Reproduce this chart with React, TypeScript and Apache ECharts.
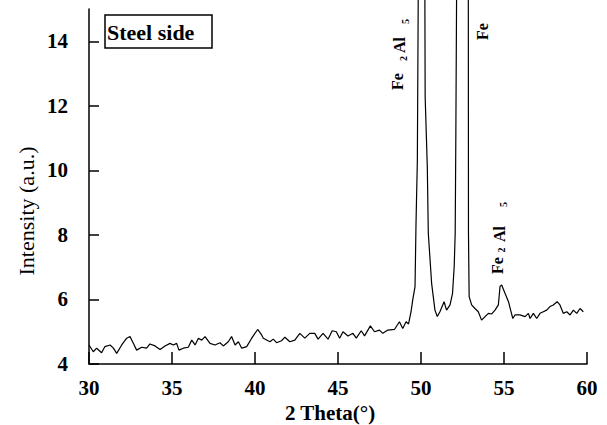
import React, { useEffect, useRef } from "react";
import * as echarts from "echarts";

const twoTheta = [
  30.0, 30.26, 30.46, 30.76, 30.96, 31.27, 31.47, 31.67, 31.97, 32.27, 32.47, 32.67, 32.87, 33.17, 33.47,
  33.67, 33.98, 34.28, 34.58, 34.88, 35.08, 35.28, 35.42, 35.68, 35.98, 36.19, 36.39, 36.59, 36.79, 36.99,
  37.29, 37.59, 37.89, 38.09, 38.39, 38.59, 38.8, 39.0, 39.2, 39.5, 39.8, 40.16, 40.4, 40.5, 40.9,
  41.1, 41.3, 41.6, 41.8, 42.1, 42.4, 42.7, 43.0, 43.3, 43.6, 43.8, 44.1, 44.4, 44.65, 44.9,
  45.1, 45.3, 45.6, 45.9, 46.1, 46.4, 46.6, 46.95, 47.2, 47.5, 47.7, 48.0, 48.4, 48.7, 48.9,
  49.1, 49.25, 49.4, 49.5, 49.64, 49.7, 49.78, 49.84, 50.04, 50.23, 50.25, 50.38, 50.44, 50.64, 50.84,
  50.98, 51.14, 51.39, 51.54, 51.75, 51.9, 52.0, 52.06, 52.1, 52.15, 52.5, 52.85, 52.86, 52.9, 53.05,
  53.25, 53.45, 53.65, 53.86, 54.06, 54.26, 54.46, 54.66, 54.76, 54.86, 55.06, 55.27, 55.4, 55.53, 55.66,
  55.96, 56.27, 56.47, 56.57, 56.77, 56.97, 57.17, 57.37, 57.57, 57.77, 57.97, 58.2, 58.37, 58.57, 58.78,
  58.98, 59.18, 59.38, 59.58, 59.78,
];

const intensity = [
  4.59, 4.38, 4.49, 4.35, 4.54, 4.59, 4.49, 4.33, 4.59, 4.8, 4.85, 4.64, 4.43, 4.52, 4.49,
  4.62, 4.56, 4.45, 4.56, 4.64, 4.59, 4.64, 4.43, 4.49, 4.52, 4.74, 4.59, 4.8, 4.74, 4.85,
  4.64, 4.59, 4.66, 4.56, 4.69, 4.85, 4.59, 4.69, 4.49, 4.54, 4.8, 5.07, 4.9, 4.8, 4.69,
  4.77, 4.66, 4.72, 4.83, 4.69, 4.74, 4.95, 4.8, 4.95, 4.95, 4.77, 4.95, 4.77, 5.03, 5.0,
  4.8, 5.0, 4.87, 4.95, 4.8, 5.03, 4.87, 5.18, 5.0, 5.05, 4.95, 5.05, 5.07, 5.31, 5.1,
  5.31, 5.24, 5.62, 5.98, 6.4, 8.37, 10.3, 16, 30, 16, 12.29, 10.1, 8.05, 6.5, 5.67,
  5.47, 5.62, 5.93, 5.67, 5.83, 6.19, 7.02, 8.05, 11.15, 16, 30, 16, 8.05, 6.09, 5.83,
  5.72, 5.62, 5.36, 5.47, 5.57, 5.55, 5.67, 5.83, 6.4, 6.45, 6.19, 5.93, 5.67, 5.41, 5.52,
  5.52, 5.47, 5.57, 5.41, 5.57, 5.41, 5.57, 5.62, 5.67, 5.78, 5.83, 5.93, 5.83, 5.57, 5.62,
  5.52, 5.67, 5.57, 5.72, 5.62,
];

const xTicks = [30, 35, 40, 45, 50, 55, 60];
const yTicks = [4, 6, 8, 10, 12, 14];

const xTitle = "2 Theta(°)";
const yTitle = "Intensity (a.u.)";
const boxLabel = "Steel side";

const FONT = "'Liberation Serif', 'Times New Roman', serif";

function vText(text: string, x: number, y: number, size: number, weight: string = "bold") {
  return {
    type: "text",
    x,
    y,
    rotation: Math.PI / 2,
    silent: true,
    style: {
      text,
      fontSize: size,
      fontWeight: weight,
      fontFamily: FONT,
      fill: "#000",
      textAlign: "center",
      textVerticalAlign: "middle",
      align: "center",
      verticalAlign: "middle",
    },
  };
}

export default function App() {
  const ref = useRef<HTMLDivElement>(null);

  useEffect(() => {
    if (!ref.current) return;
    const chart = echarts.init(ref.current, null, { renderer: "svg" });
    const data = twoTheta.map((t, i) => [t, intensity[i]]);
    chart.setOption({
      animation: false,
      backgroundColor: "#fff",
      grid: { left: 89, right: 20, top: 9, bottom: 61 },
      xAxis: {
        type: "value",
        min: 30,
        max: 60,
        interval: 5,
        axisLine: { show: true, lineStyle: { color: "#000", width: 1.5 } },
        axisTick: { show: true, inside: true, length: 12, lineStyle: { color: "#000", width: 1.5 }, customValues: xTicks },
        axisLabel: {
          color: "#000",
          fontSize: 21,
          fontWeight: "bold",
          fontFamily: FONT,
          margin: 13,
          customValues: xTicks,
        },
        splitLine: { show: false },
      },
      yAxis: {
        type: "value",
        min: 4,
        max: 15,
        interval: 2,
        axisLine: { show: true, lineStyle: { color: "#000", width: 1.5 } },
        axisTick: { show: true, inside: true, length: 10, lineStyle: { color: "#000", width: 1.5 }, customValues: yTicks },
        axisLabel: {
          color: "#000",
          fontSize: 21,
          fontWeight: "bold",
          fontFamily: FONT,
          margin: 21,
          customValues: yTicks,
        },
        splitLine: { show: false },
      },
      series: [
        {
          type: "line",
          data,
          showSymbol: false,
          clip: false,
          lineStyle: { color: "#000", width: 1.2 },
        },
      ],
      graphic: [
        {
          type: "rect",
          shape: { x: 105, y: 15, width: 107, height: 33 },
          style: { fill: "#fff", stroke: "#000", lineWidth: 1.5 },
          silent: true,
        },
        {
          type: "text",
          x: 107,
          y: 32,
          silent: true,
          style: {
            text: boxLabel,
            fontSize: 22,
            fontWeight: "bold",
            fontFamily: FONT,
            fill: "#000",
            textAlign: "left",
            textVerticalAlign: "middle",
            align: "left",
            verticalAlign: "middle",
          },
        },
        {
          type: "text",
          x: 330,
          y: 413,
          silent: true,
          style: {
            text: xTitle,
            fontSize: 21,
            fontWeight: "bold",
            fontFamily: FONT,
            fill: "#000",
            textAlign: "center",
            textVerticalAlign: "middle",
            align: "center",
            verticalAlign: "middle",
          },
        },
        vText(yTitle, 26, 211, 22, "normal"),
        // Fe2Al5 label at ~50°
        vText("Fe", 397.5, 81.5, 16),
        vText("2", 403.5, 58.5, 10),
        vText("Al", 399, 45, 16),
        vText("5", 405, 21.5, 10),
        // Fe label at ~52.5°
        vText("Fe", 482.5, 31.5, 16),
        // Fe2Al5 label at ~55°
        vText("Fe", 497, 265.5, 16),
        vText("2", 501.5, 250, 10),
        vText("Al", 499, 234, 16),
        vText("5", 503.5, 204.5, 10),
      ],
    });
    return () => chart.dispose();
  }, []);

  return (
    <div
      ref={ref}
      style={{ position: "absolute", left: 0, top: 0, width: 607, height: 425 }}
    />
  );
}
